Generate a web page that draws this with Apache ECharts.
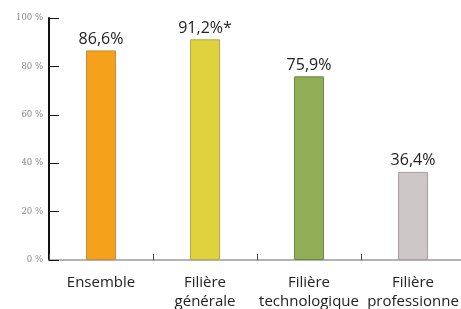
<!DOCTYPE html>
<html>
<head>
<meta charset="utf-8">
<script src="https://cdn.jsdelivr.net/npm/echarts@6/dist/echarts.min.js"></script>
<style>
  html, body { margin: 0; padding: 0; background: #fff; }
  #main { width: 461px; height: 309px; }
</style>
</head>
<body>
<div id="main"></div>
<script>
var categories = ["Ensemble", "Filière\ngénérale", "Filière\ntechnologique", "Filière\nprofessionne"];
var values = [86.6, 91.2, 75.9, 36.4];
var valueLabels = ["86,6%", "91,2%*", "75,9%", "36,4%"];
var barColors = ["#F5A11C", "#DFD23C", "#8FAE56", "#CCC6C6"];
var borderColors = ["#C58A3A", "#B8A84A", "#6F8A48", "#A8A0A0"];

var myChart = echarts.init(document.getElementById("main"));

var option = {
  animation: false,
  grid: { left: 49, right: -4, top: 18, bottom: 49, outerBoundsMode: "none", containLabel: false },
  xAxis: {
    type: "category",
    data: categories,
    axisLine: { lineStyle: { color: "#9a9a9a", width: 1.5 } },
    axisTick: { show: true, inside: true, length: 6, lineStyle: { color: "#444" } },
    axisLabel: {
      color: "#222",
      fontFamily: "Open Sans",
      fontSize: 15,
      lineHeight: 19,
      margin: 13,
      interval: 0
    }
  },
  yAxis: {
    type: "value",
    min: 0,
    max: 100,
    interval: 20,
    splitLine: { show: false },
    axisLine: { show: true, lineStyle: { color: "#111", width: 2 } },
    axisTick: { show: true, inside: true, length: 10, lineStyle: { color: "#111" } },
    axisLabel: {
      color: "#888",
      fontFamily: "DejaVu Serif",
      fontSize: 8.5,
      margin: 6,
      formatter: function (v) { return v + " %"; }
    }
  },
  series: [
    {
      type: "bar",
      barWidth: 30,
      data: values.map(function (v, i) {
        return {
          value: v,
          itemStyle: { color: barColors[i], borderColor: borderColors[i], borderWidth: 1 }
        };
      }),
      label: {
        show: true,
        position: "top",
        distance: 3,
        color: "#222",
        fontFamily: "Open Sans",
        fontSize: 16,
        formatter: function (p) { return valueLabels[p.dataIndex]; }
      }
    }
  ]
};

option && myChart.setOption(option);
</script>
</body>
</html>
